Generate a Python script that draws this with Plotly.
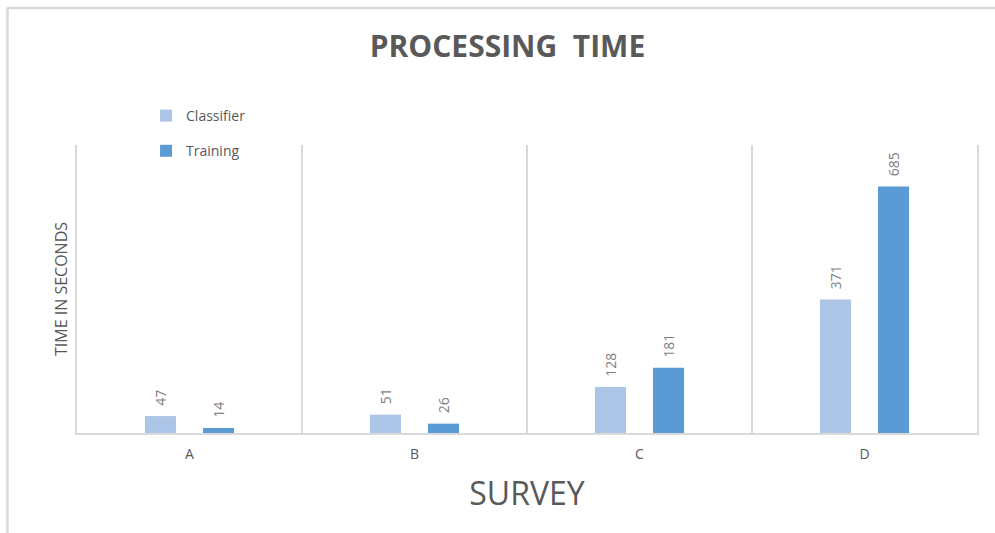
import plotly.graph_objects as go

# Survey categories and processing times (seconds)
surveys = ["A", "B", "C", "D"]
classifier_time = [47, 51, 128, 371]
training_time = [14, 26, 181, 685]

series_names = ["Classifier", "Training"]
series_colors = ["#adc5e7", "#5b9bd5"]

GRID = "#d9d9d9"
TEXT = "#595959"
LABEL = "#7f7f7f"
FONT = "Open Sans"

fig = go.Figure()
for name, values, color in zip(series_names,
                               [classifier_time, training_time],
                               series_colors):
    fig.add_trace(go.Bar(
        name=name,
        x=surveys,
        y=values,
        marker=dict(color=color, line=dict(width=0)),
        texttemplate="\u00a0\u00a0%{y}",
        textposition="outside",
        textangle=-90,
        textfont=dict(family=FONT, size=14, color=LABEL),
        cliponaxis=False,
        legendgroup=name,
    ))

fig.update_layout(
    width=995,
    height=533,
    paper_bgcolor="white",
    plot_bgcolor="white",
    barmode="group",
    bargap=0.484,
    bargroupgap=0.465,
    margin=dict(l=77, r=18, t=145, b=100),
    font=dict(family=FONT, color=TEXT),
    title=dict(
        text="<b>PROCESSING  TIME</b>",
        x=0.510,
        xanchor="center",
        y=0.913,
        yanchor="middle",
        font=dict(family=FONT, size=30, color=TEXT),
    ),
    legend=dict(
        x=0.0767,
        xanchor="left",
        y=1.04,
        yanchor="middle",
        orientation="v",
        tracegroupgap=14,
        font=dict(family=FONT, size=14, color=TEXT),
        bgcolor="rgba(0,0,0,0)",
    ),
    xaxis=dict(
        type="category",
        tickson="boundaries",
        showgrid=True,
        gridcolor=GRID,
        gridwidth=1.5,
        showline=True,
        linecolor=GRID,
        linewidth=2,
        ticks="",
        ticklabelstandoff=7,
        tickfont=dict(family=FONT, size=14, color=TEXT),
        title=dict(text="SURVEY", standoff=21,
                   font=dict(family=FONT, size=32, color=TEXT)),
    ),
    yaxis=dict(
        range=[0, 800],
        showgrid=False,
        zeroline=False,
        showticklabels=False,
        ticks="",
        showline=True,
        mirror=True,
        linecolor=GRID,
        linewidth=1.5,
        title=dict(text="TIME IN SECONDS", standoff=4,
                   font=dict(family=FONT, size=16, color=TEXT)),
    ),
)

# Outer chart frame (top and left edges visible in the canvas)
fig.add_shape(type="line", xref="paper", yref="paper",
              x0=-0.078, x1=1.03, y0=1.4757, y1=1.4757,
              line=dict(color=GRID, width=2.5))
fig.add_shape(type="line", xref="paper", yref="paper",
              x0=-0.0772, x1=-0.0772, y0=1.4757, y1=-0.38,
              line=dict(color=GRID, width=2.5))

fig.write_html("out.html")
